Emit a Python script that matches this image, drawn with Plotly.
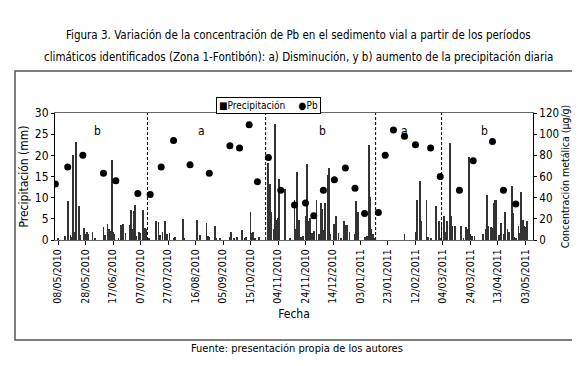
import plotly.graph_objects as go

# ---------------- data ----------------
precip_dates = [
    "2010-05-08","2010-05-13","2010-05-15","2010-05-17","2010-05-18","2010-05-19","2010-05-20","2010-05-21",
    "2010-05-23","2010-05-24","2010-05-27","2010-05-28","2010-05-29","2010-05-30","2010-06-02","2010-06-04",
    "2010-06-10","2010-06-11","2010-06-13","2010-06-14","2010-06-15","2010-06-16","2010-06-17","2010-06-18",
    "2010-06-21","2010-06-23","2010-06-24","2010-06-26","2010-06-29","2010-06-30","2010-07-01","2010-07-02",
    "2010-07-03","2010-07-04","2010-07-06","2010-07-07","2010-07-09","2010-07-10","2010-07-11","2010-07-13",
    "2010-07-18","2010-07-20","2010-07-21","2010-07-23","2010-07-25","2010-07-26","2010-07-28","2010-07-31",
    "2010-08-01","2010-08-07","2010-08-08","2010-08-17","2010-08-19","2010-08-24","2010-08-25","2010-08-26",
    "2010-08-30","2010-08-31","2010-09-03","2010-09-10","2010-09-11","2010-09-13","2010-09-15","2010-10-09",
    "2010-10-11","2010-10-12","2010-10-15","2010-10-16","2010-10-17","2010-10-18","2010-10-21","2010-10-28",
    "2010-10-29","2010-10-30","2010-11-01","2010-11-02","2010-11-03","2010-11-04","2010-11-05","2010-11-09",
    "2010-11-13","2010-11-16","2010-11-17","2010-11-18","2010-11-19","2010-11-21","2010-11-22","2010-11-24",
    "2010-11-25","2010-11-26","2010-11-27","2010-11-29","2010-11-30","2010-12-02","2010-12-04","2010-12-05",
    "2010-12-06","2010-12-07","2010-12-08","2010-12-10","2010-12-11","2010-12-12","2010-12-15","2010-12-16",
    "2010-12-18","2010-12-20","2010-12-22","2010-12-23","2010-12-24","2010-12-26","2010-12-30","2010-12-31",
    "2011-01-01","2011-01-06","2011-01-08","2011-01-09","2011-01-10","2011-01-11","2011-01-12","2011-01-13",
    "2011-02-04","2011-02-12","2011-02-13","2011-02-15","2011-02-16","2011-02-20","2011-02-21","2011-02-23",
    "2011-02-27","2011-03-01","2011-03-02","2011-03-03","2011-03-05","2011-03-06","2011-03-07","2011-03-09",
    "2011-03-10","2011-03-11","2011-03-13","2011-03-17","2011-03-19","2011-03-21","2011-03-22","2011-03-23",
    "2011-03-24","2011-03-25","2011-03-27","2011-04-02","2011-04-04","2011-04-05","2011-04-06","2011-04-08",
    "2011-04-09","2011-04-10","2011-04-11","2011-04-12","2011-04-14","2011-04-15","2011-04-17","2011-04-18",
    "2011-04-20","2011-04-21","2011-04-23","2011-04-24","2011-04-25","2011-04-26","2011-04-28","2011-04-29",
    "2011-04-30","2011-05-01","2011-05-02","2011-05-03","2011-05-04",
]
precip_mm = [
    0.3,1.0,9.1,1.2,0.8,20.0,1.8,23.2,
    8.1,1.2,2.8,1.5,1.8,1.4,1.8,0.3,
    3.1,1.3,3.8,2.7,2.2,18.8,1.8,1.5,
    0.5,3.5,3.8,1.6,3.6,7.2,2.7,6.8,
    8.3,1.0,2.0,1.6,7.2,2.8,2.5,0.3,
    4.4,4.3,1.2,2.0,4.4,1.5,1.6,0.5,
    0.8,5.0,0.3,4.8,1.2,3.9,1.0,0.8,
    3.2,0.5,0.3,0.8,2.0,0.5,0.6,2.3,
    0.4,0.8,6.6,1.6,2.0,0.4,0.6,18.2,
    13.3,6.5,2.7,27.5,4.8,5.2,14.4,12.1,
    0.3,9.5,2.6,16.0,4.8,0.6,1.0,5.6,
    18.0,4.6,5.2,1.6,2.2,9.4,1.5,8.7,
    7.3,2.3,8.7,15.4,17.0,1.5,3.7,5.6,
    1.6,0.5,4.4,3.5,3.5,1.8,1.5,9.1,
    6.7,0.8,1.0,22.5,10.2,2.6,1.4,0.3,
    1.5,2.0,9.5,13.9,4.4,9.5,0.6,0.3,
    8.0,4.4,0.5,3.5,5.6,2.0,4.4,22.8,
    5.6,3.4,3.4,3.4,0.5,3.0,2.5,19.6,
    1.5,1.0,1.0,1.5,2.6,10.7,3.2,3.0,
    2.8,8.7,9.5,9.4,1.3,4.0,1.5,6.5,
    2.5,2.0,12.7,6.4,0.6,0.4,3.2,1.6,
    11.3,4.8,3.4,3.0,4.4,
]

pb_dates = [
    "2010-05-06","2010-05-15","2010-05-26","2010-06-10","2010-06-19","2010-07-05","2010-07-14","2010-07-22",
    "2010-07-31","2010-08-12","2010-08-26","2010-09-10","2010-10-07","2010-10-14","2010-10-20","2010-10-28",
    "2010-11-06","2010-11-16","2010-11-24","2010-11-30","2010-12-07","2010-12-15","2010-12-23","2010-12-30",
    "2011-01-06","2011-01-16","2011-01-21","2011-01-27","2011-02-04","2011-02-12","2011-02-23","2011-03-02",
    "2011-03-16","2011-03-26","2011-04-09","2011-04-17","2011-04-26",
]
pb_ugg = [
    53,69,80,63,56,44,43,69,
    94,71,63,89,87,109,55,78,
    47,33,35,23,47,57,68,49,
    25,26,80,104,98,90,87,60,
    47,75,93,47,34,
]

tick_dates = [
    "2010-05-08","2010-05-28","2010-06-17","2010-07-07","2010-07-27","2010-08-16","2010-09-05","2010-10-15",
    "2010-11-04","2010-11-24","2010-12-14","2011-01-03","2011-01-23","2011-02-12","2011-03-04","2011-03-24",
    "2011-04-13","2011-05-03",
]
tick_labels = [
    "08/05/2010","28/05/2010","17/06/2010","07/07/2010","27/07/2010","16/08/2010","05/09/2010","15/10/2010",
    "04/11/2010","24/11/2010","14/12/2010","03/01/2011","23/01/2011","12/02/2011","04/03/2011","24/03/2011",
    "13/04/2011","03/05/2011",
]

period_bounds = ["2010-07-12","2010-10-26","2011-01-14","2011-03-03"]
period_label_dates = ["2010-06-06","2010-08-20","2010-12-06","2011-02-04","2011-04-03"]
period_labels = ["b","a","b","a","b"]

title_lines = [
    "Figura 3. Variación de la concentración de Pb en el sedimento vial a partir de los períodos",
    "climáticos identificados (Zona 1-Fontibón): a) Disminución, y b) aumento de la precipitación diaria",
]
source_text = "Fuente: presentación propia de los autores"
legend_text = "■Precipitación\u2003\u2002●Pb"

FONT = "Liberation Sans Narrow, DejaVu Sans Condensed, Arial Narrow, sans-serif"

# plot area in pixels: x 47..525, y 105..232
PL, PR, PT, PB_ = 47, 525, 105, 232
def px(x):
    return (x - PL) / (PR - PL)
def py(y):
    return (PB_ - y) / (PB_ - PT)

fig = go.Figure()
fig.add_trace(go.Bar(
    x=precip_dates, y=precip_mm, name="Precipitación",
    marker=dict(color="#333333", line=dict(width=0)),
    width=86400000 * 0.6, yaxis="y", showlegend=False,
))
fig.add_trace(go.Scatter(
    x=pb_dates, y=pb_ugg, name="Pb", mode="markers",
    marker=dict(color="black", size=7, symbol="circle"),
    yaxis="y2", showlegend=False,
))

shapes = []
for d in period_bounds:
    shapes.append(dict(type="line", xref="x", yref="paper", x0=d, x1=d, y0=0, y1=1,
                       line=dict(color="black", width=1, dash="3px,2px")))
# outer frame
shapes.append(dict(type="rect", xref="paper", yref="paper",
                   x0=px(7), x1=px(572), y0=py(332), y1=py(63),
                   line=dict(color="#555555", width=1.5), layer="below"))

annotations = []
for d, t in zip(period_label_dates, period_labels):
    annotations.append(dict(x=d, y=25.8, xref="x", yref="y", text=t, showarrow=False,
                            font=dict(family=FONT, size=12, color="black")))
annotations.append(dict(x=px(290), y=py(18), xref="paper", yref="paper", text=title_lines[0],
                        showarrow=False, font=dict(family=FONT, size=11.5, color="black")))
annotations.append(dict(x=px(290), y=py(40), xref="paper", yref="paper", text=title_lines[1],
                        showarrow=False, font=dict(family=FONT, size=11.5, color="black")))
annotations.append(dict(x=px(289), y=py(349), xref="paper", yref="paper", text=source_text,
                        showarrow=False, font=dict(family=FONT, size=11, color="black")))
# legend box
annotations.append(dict(x=px(260), y=py(89), xref="paper", yref="paper",
                        text=legend_text, showarrow=False, xanchor="center",
                        bordercolor="black", borderwidth=1, borderpad=2, bgcolor="white",
                        font=dict(family=FONT, size=10, color="black")))

fig.update_layout(
    width=580, height=366,
    margin=dict(l=PL, r=580 - PR, t=PT, b=366 - PB_),
    paper_bgcolor="white", plot_bgcolor="white",
    font=dict(family=FONT, size=11, color="black"),
    showlegend=False,
    bargap=0,
    xaxis=dict(
        type="date",
        range=["2010-05-05 18:00", "2011-05-08 12:00"],
        rangebreaks=[dict(bounds=["2010-09-16", "2010-10-06"])],
        tickmode="array", tickvals=tick_dates, ticktext=tick_labels, tickangle=-90,
        ticks="outside", ticklen=4, tickcolor="black",
        showline=True, linecolor="#666666", linewidth=1, mirror=True,
        showgrid=False, zeroline=False,
        tickfont=dict(family=FONT, size=10.5),
        title=dict(text="Fecha", font=dict(family=FONT, size=12), standoff=6),
    ),
    yaxis=dict(
        range=[0, 30], tickvals=[0, 5, 10, 15, 20, 25, 30],
        ticks="outside", ticklen=3, tickcolor="black",
        showline=True, linecolor="black", linewidth=1,
        showgrid=False, zeroline=False,
        tickfont=dict(family=FONT, size=12),
        title=dict(text="Precipitación (mm)", font=dict(family=FONT, size=12), standoff=3),
    ),
    yaxis2=dict(
        range=[0, 120], tickvals=[0, 20, 40, 60, 80, 100, 120],
        overlaying="y", side="right",
        ticks="outside", ticklen=3, tickcolor="black",
        showline=True, linecolor="black", linewidth=1,
        showgrid=False, zeroline=False,
        tickfont=dict(family=FONT, size=11.5),
        title=dict(text="Concentración metálica (µg/g)", font=dict(family=FONT, size=10.5), standoff=2),
    ),
    shapes=shapes,
    annotations=annotations,
)

fig.write_html("out.html")
